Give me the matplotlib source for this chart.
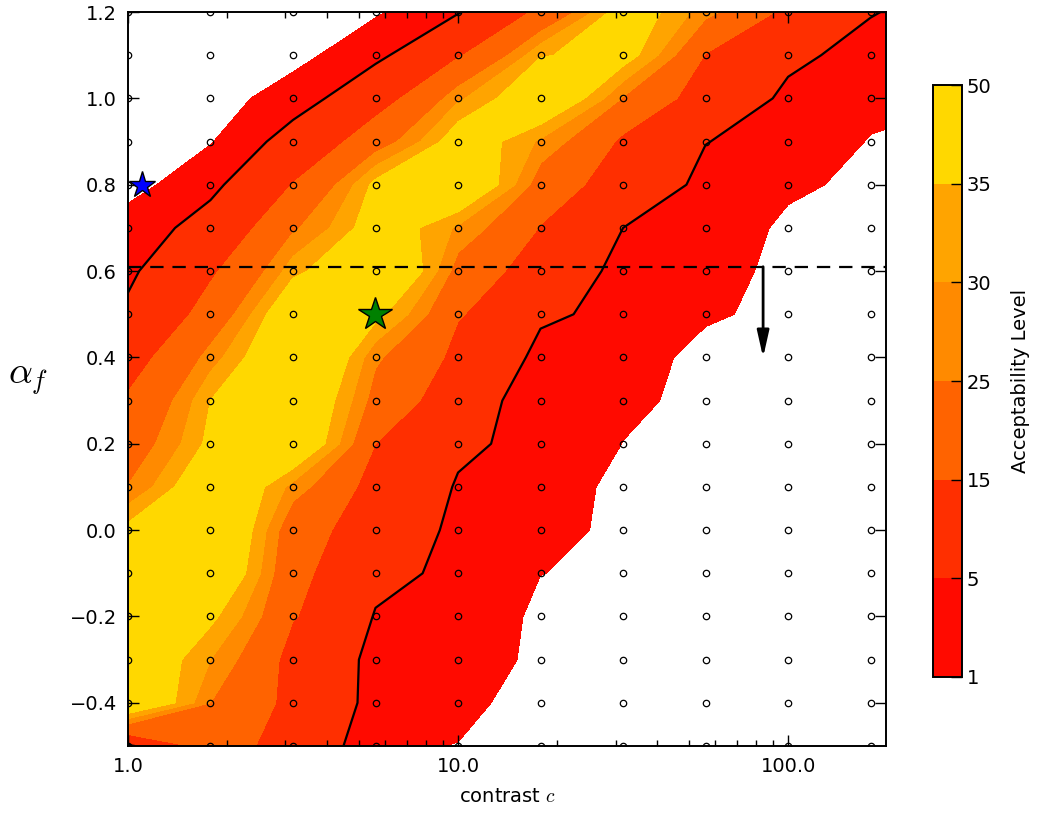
import numpy as np
import matplotlib
matplotlib.use("Agg")
import matplotlib.pyplot as plt
from matplotlib.ticker import FixedLocator, FixedFormatter, LogLocator, NullFormatter

plt.rcParams['font.family'] = ['DejaVu Sans']
plt.rcParams['mathtext.fontset'] = 'cm'

# ---------------- data ----------------
# grid of contrast values (quarter decades) and alpha_f values
contrast = [1.0, 1.778, 3.162, 5.623, 10.0, 17.78, 31.62, 56.23, 100.0, 177.8, 316.2]
alpha_f = [1.2, 1.1, 1.0, 0.9, 0.8, 0.7, 0.6, 0.5, 0.4, 0.3, 0.2, 0.1, 0.0,
           -0.1, -0.2, -0.3, -0.4, -0.5]

# acceptability level at each grid point, one row per alpha_f (top to bottom)
acceptability = [
    [0.0, 0.1, 0.3, 0.6, 4.6, 17.0, 40.0, 27.0, 12.0, 5.3, 2.0],     # 1.2
    [0.0, 0.0, 0.1, 3.6, 14.0, 34.5, 38.5, 14.5, 6.0, 3.0, 1.5],     # 1.1
    [0.0, 0.0, 2.4, 10.5, 29.0, 44.0, 24.5, 8.3, 4.0, 2.0, 1.2],     # 1.0
    [0.0, 0.8, 7.6, 21.0, 40.0, 29.0, 13.0, 5.1, 2.9, 0.8, 0.0],     # 0.9
    [0.0, 3.5, 15.3, 37.0, 45.0, 21.0, 8.0, 3.8, 1.6, 0.0, 0.0],     # 0.8
    [2.3, 7.7, 24.0, 40.0, 29.0, 14.5, 5.0, 2.8, 0.3, 0.0, 0.0],     # 0.7
    [4.0, 13.6, 33.0, 48.0, 22.0, 8.0, 3.6, 2.1, 0.0, 0.0, 0.0],     # 0.6
    [6.0, 19.0, 45.0, 37.0, 15.6, 6.0, 3.0, 1.4, 0.0, 0.0, 0.0],     # 0.5
    [11.0, 27.5, 49.0, 26.0, 12.0, 3.0, 2.2, 0.0, 0.0, 0.0, 0.0],    # 0.4
    [16.0, 35.0, 45.0, 22.0, 7.0, 2.7, 1.6, 0.0, 0.0, 0.0, 0.0],     # 0.3
    [20.5, 37.0, 44.4, 15.0, 6.0, 3.0, 0.95, 0.0, 0.0, 0.0, 0.0],    # 0.2
    [25.2, 45.0, 28.0, 10.0, 4.5, 2.4, 0.1, 0.0, 0.0, 0.0, 0.0],     # 0.1
    [37.0, 47.3, 19.0, 9.0, 3.5, 2.1, 0.0, 0.0, 0.0, 0.0, 0.0],      # 0.0
    [44.0, 45.0, 17.0, 7.0, 3.0, 1.05, 0.0, 0.0, 0.0, 0.0, 0.0],     # -0.1
    [45.0, 36.5, 15.5, 4.5, 3.8, 0.0, 0.0, 0.0, 0.0, 0.0, 0.0],      # -0.2
    [42.0, 30.0, 11.0, 3.0, 2.9, 0.0, 0.0, 0.0, 0.0, 0.0, 0.0],      # -0.3
    [45.0, 25.0, 11.5, 2.6, 1.5, 0.0, 0.0, 0.0, 0.0, 0.0, 0.0],      # -0.4
    [4.0, 20.0, 9.5, 1.2, 0.95, 0.0, 0.0, 0.0, 0.0, 0.0, 0.0],       # -0.5
]

levels = [1, 5, 15, 25, 30, 35, 50]
level_labels = ['1', '5', '15', '25', '30', '35', '50']
black_level = [5]

x_ticks = [1.0, 10.0, 100.0]
x_tick_labels = ['1.0', '10.0', '100.0']
y_ticks = [-0.4, -0.2, 0.0, 0.2, 0.4, 0.6, 0.8, 1.0, 1.2]
y_tick_labels = ['\u22120.4', '\u22120.2', '0.0', '0.2', '0.4', '0.6', '0.8', '1.0', '1.2']

threshold_alpha = 0.61
arrow_c = 84.0
arrow_tip = 0.40
blue_star = (1.1, 0.8)
green_star = (5.62, 0.5)
n_dot_columns = 10

# ---------------- plot ----------------
C, A = np.meshgrid(np.array(contrast), np.array(alpha_f))
Z = np.array(acceptability)

fig = plt.figure(figsize=(10.37, 8.13), dpi=100)
ax = fig.add_axes([0.1234, 0.0824, 0.731, 0.9028])
cax = fig.add_axes([0.8997, 0.1673, 0.028, 0.7281])

cs = ax.contourf(C, A, Z, levels=levels, cmap='autumn')
ax.contour(C, A, Z, levels=black_level, colors='k', linewidths=1.6)

ax.plot(C[:, :n_dot_columns].ravel(), A[:, :n_dot_columns].ravel(), 'o',
        mfc='none', mec='k', ms=4.6, mew=0.9, zorder=3)

ax.axhline(threshold_alpha, color='k', lw=1.6, ls=(0, (6, 4)), zorder=4)
ax.annotate('', xy=(arrow_c, arrow_tip), xytext=(arrow_c, threshold_alpha),
            arrowprops=dict(arrowstyle='-|>,head_length=0.8,head_width=0.18',
                            color='k', lw=2, mutation_scale=20,
                            shrinkA=0, shrinkB=0), zorder=5)

ax.plot(*blue_star, marker='*', ms=20, mfc='#0000ff', mec='k', mew=1.0,
        zorder=6, clip_on=False)
ax.plot(*green_star, marker='*', ms=25, mfc='#008000', mec='k', mew=1.0,
        zorder=6, clip_on=False)

ax.set_xscale('log')
ax.set_xlim(1.0, 198.0)
ax.set_ylim(-0.5, 1.2)

ax.xaxis.set_major_locator(FixedLocator(x_ticks))
ax.xaxis.set_major_formatter(FixedFormatter(x_tick_labels))
ax.xaxis.set_minor_locator(LogLocator(base=10, subs=np.arange(2, 10)))
ax.xaxis.set_minor_formatter(NullFormatter())
ax.yaxis.set_major_locator(FixedLocator(y_ticks))
ax.yaxis.set_major_formatter(FixedFormatter(y_tick_labels))

ax.tick_params(which='both', direction='in', top=True, right=True,
               labelsize=14, width=1.0)
ax.tick_params(which='major', length=8, pad=8)
ax.tick_params(which='minor', length=4)
for sp in ax.spines.values():
    sp.set_linewidth(1.4)

ax.set_xlabel(r'contrast $c$', fontsize=14, labelpad=8)
ax.set_ylabel(r'$\alpha_f$', fontsize=27, rotation=0, labelpad=30, va='center')

cb = fig.colorbar(cs, cax=cax, ticks=levels)
cb.ax.set_yticklabels(level_labels)
cb.ax.tick_params(direction='in', length=8, width=1.0, labelsize=14)
cb.outline.set_linewidth(1.4)
cb.set_label('Acceptability Level', fontsize=14, labelpad=14)

fig.savefig('out.png', dpi=100, facecolor='white')
